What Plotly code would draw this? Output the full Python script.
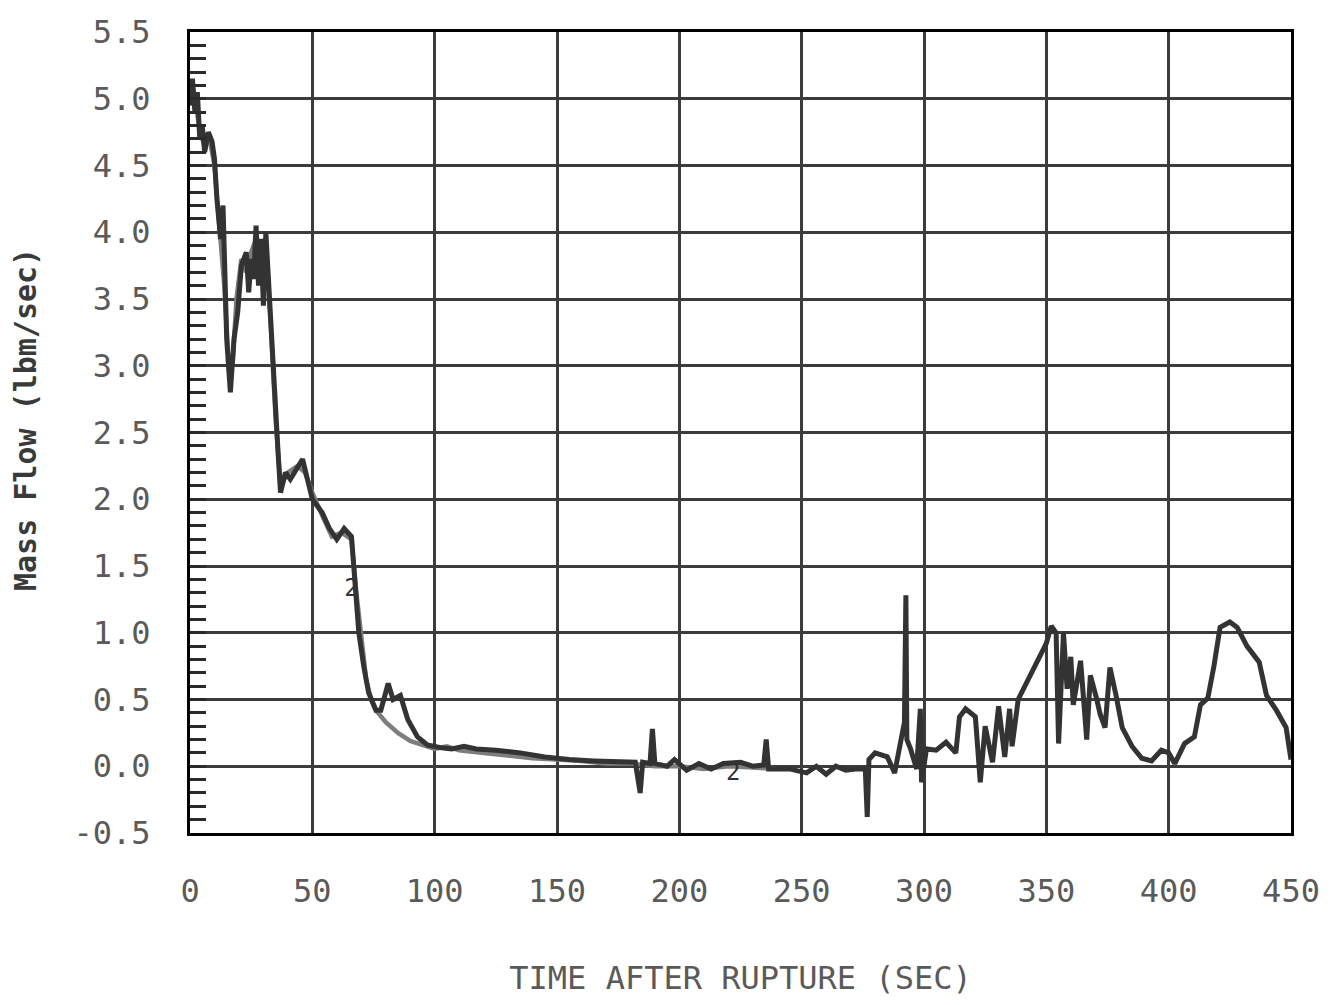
import plotly.graph_objects as go

# Mass flow history, curve 1 (time in s, mass flow in lbm/sec)
time_1 = [0, 1, 2, 3, 4, 5, 6, 7.5, 9, 10, 11, 12.5, 13.5, 14, 15, 16.5, 18, 19.5,
          21, 23, 24, 25, 26, 27, 28, 29, 30, 31, 32.5, 34.5, 36, 37, 39, 41, 44,
          46, 48, 50, 54, 57, 60, 63, 66, 67, 68, 69, 71, 73, 76, 78, 81, 83, 86,
          89, 93, 97, 102, 107, 112, 117, 125, 135, 145, 155, 165, 175, 182, 184,
          185, 188, 189, 190, 195, 198, 203, 208, 213, 218, 225, 230, 234.5,
          235.5, 236.5, 245, 252, 256, 260, 264, 268, 272, 276, 276.8, 277.5,
          280, 285, 288, 290.5, 292, 292.6, 293, 294.5, 297, 298.5, 299, 301,
          305, 309, 313, 314.5, 317, 321, 323, 325, 328, 330.5, 333, 335, 336,
          338.5, 342.5, 346.5, 350, 352, 354, 355, 357, 358.5, 360, 361, 364,
          366.5, 368, 370.5, 372, 374, 376, 378.5, 381, 385, 389, 393, 397, 400,
          402.5, 406.5, 410.5, 413, 416, 418.5, 421, 425, 428, 432, 437, 440,
          444, 448, 450]
flow_1 = [4.95, 5.15, 4.9, 5.05, 4.7, 4.8, 4.6, 4.75, 4.68, 4.55, 4.25, 3.95, 4.2,
          3.8, 3.2, 2.8, 3.2, 3.4, 3.75, 3.85, 3.55, 3.8, 3.65, 4.05, 3.6, 3.95,
          3.45, 4.0, 3.45, 2.85, 2.35, 2.05, 2.2, 2.15, 2.25, 2.3, 2.15, 2.0,
          1.9, 1.78, 1.7, 1.78, 1.72, 1.5, 1.2, 1.0, 0.75, 0.55, 0.42, 0.42,
          0.62, 0.5, 0.53, 0.35, 0.22, 0.16, 0.14, 0.13, 0.15, 0.13, 0.12, 0.1,
          0.07, 0.05, 0.04, 0.03, 0.03, -0.2, 0.03, 0.02, 0.28, 0.02, 0.0, 0.05,
          -0.03, 0.02, -0.02, 0.02, 0.03, 0.0, 0.01, 0.2, -0.02, -0.02, -0.05,
          0.0, -0.06, 0.0, -0.03, -0.02, -0.02, -0.38, 0.05, 0.1, 0.07, -0.05,
          0.18, 0.33, 1.28, 0.2, 0.13, -0.02, 0.43, -0.12, 0.13, 0.12, 0.18,
          0.1, 0.37, 0.43, 0.37, -0.12, 0.3, 0.03, 0.45, 0.07, 0.43, 0.15, 0.5,
          0.65, 0.78, 0.92, 1.05, 1.0, 0.17, 1.0, 0.58, 0.82, 0.46, 0.79, 0.2,
          0.68, 0.51, 0.39, 0.29, 0.74, 0.53, 0.29, 0.15, 0.06, 0.04, 0.12, 0.1,
          0.02, 0.17, 0.22, 0.46, 0.51, 0.75, 1.04, 1.08, 1.04, 0.9, 0.78, 0.53,
          0.42, 0.29, 0.05]

# Curve 2, where it separates from curve 1
time_2 = [0, 1, 2.5, 4, 6, 8, 10, 12, 14, 16, 17.5, 19, 21, 23, 25, 27, 29, 31,
          33, 35, 37, 40, 44, 47, 50, 54, 58, 62, 66, 68, 70, 72, 74, 76, 80, 85,
          90, 95, 100, 105, 110, 120, 130, 140, 150, 160, 170, 180, 190, 200,
          210, 220, 230, 240]
flow_2 = [5.0, 5.1, 4.95, 4.75, 4.65, 4.7, 4.5, 4.0, 3.6, 2.95, 3.05, 3.5, 3.8,
          3.7, 3.85, 3.95, 3.7, 3.85, 3.3, 2.6, 2.1, 2.2, 2.25, 2.2, 2.05, 1.88,
          1.72, 1.75, 1.7, 1.3, 0.95, 0.65, 0.5, 0.42, 0.33, 0.25, 0.19, 0.16,
          0.13, 0.15, 0.12, 0.1, 0.08, 0.06, 0.05, 0.04, 0.02, 0.02, 0.0, 0.0,
          -0.02, 0.0, -0.01, -0.02]

# Curve identifiers printed beside the lines
label_time = [66, 222]
label_flow = [1.32, -0.06]
label_text = ["2", "2"]

x_tick_vals = [0, 50, 100, 150, 200, 250, 300, 350, 400, 450]
x_tick_text = ["0", "50", "100", "150", "200", "250", "300", "350", "400", "450"]
y_tick_vals = [-0.5, 0.0, 0.5, 1.0, 1.5, 2.0, 2.5, 3.0, 3.5, 4.0, 4.5, 5.0, 5.5]
y_tick_text = ["-0.5", "0.0", "0.5", "1.0", "1.5", "2.0", "2.5", "3.0", "3.5",
               "4.0", "4.5", "5.0", "5.5"]

x_title = "TIME AFTER RUPTURE (SEC)"
y_title = "Mass Flow (lbm/sec)"

MONO = "DejaVu Sans Mono"
LABEL_GRAY = "#5a5a5a"
GRID = "#3c3c3c"

fig = go.Figure()
fig.add_trace(go.Scatter(x=time_2, y=flow_2, mode="lines",
                         line=dict(color="#7d7d7d", width=4.5), name="2",
                         hoverinfo="skip"))
fig.add_trace(go.Scatter(x=time_1, y=flow_1, mode="lines",
                         line=dict(color="#333333", width=5), name="1"))
fig.add_trace(go.Scatter(x=label_time, y=label_flow, mode="text",
                         text=label_text,
                         textfont=dict(family=MONO, size=24, color="#333333"),
                         hoverinfo="skip"))

fig.update_layout(
    width=1332, height=1005,
    margin=dict(l=190, r=34, t=32, b=172),
    paper_bgcolor="white", plot_bgcolor="white",
    showlegend=False,
    font=dict(family=MONO, color=LABEL_GRAY),
)

fig.update_xaxes(
    range=[0, 450], tickvals=x_tick_vals, ticktext=x_tick_text,
    showgrid=True, gridcolor=GRID, gridwidth=3,
    showline=True, linecolor="black", linewidth=3, mirror=True,
    ticks="", zeroline=False,
    tickfont=dict(family=MONO, size=32, color=LABEL_GRAY),
    ticklabelstandoff=28,
    title=dict(text=x_title, font=dict(family=MONO, size=32, color=LABEL_GRAY),
               standoff=58),
)
fig.update_yaxes(
    range=[-0.5, 5.5], tickvals=y_tick_vals, ticktext=y_tick_text,
    showgrid=True, gridcolor=GRID, gridwidth=3,
    showline=True, linecolor="black", linewidth=3, mirror=True,
    ticks="inside", ticklen=16, tickwidth=3, tickcolor="#2a2a2a",
    minor=dict(dtick=0.1, tick0=0, ticks="inside", ticklen=16, tickwidth=3,
               tickcolor="#2a2a2a", showgrid=False),
    zeroline=False,
    tickfont=dict(family=MONO, size=32, color=LABEL_GRAY),
    ticklabelstandoff=30,
)

fig.add_annotation(
    text=y_title, textangle=-90, showarrow=False,
    xref="paper", yref="paper", x=0, y=0.5156, xanchor="center",
    yanchor="middle", xshift=-165,
    font=dict(family=MONO, size=30, color="#3a3a3a", weight="bold"),
)

fig.write_html("out.html")
